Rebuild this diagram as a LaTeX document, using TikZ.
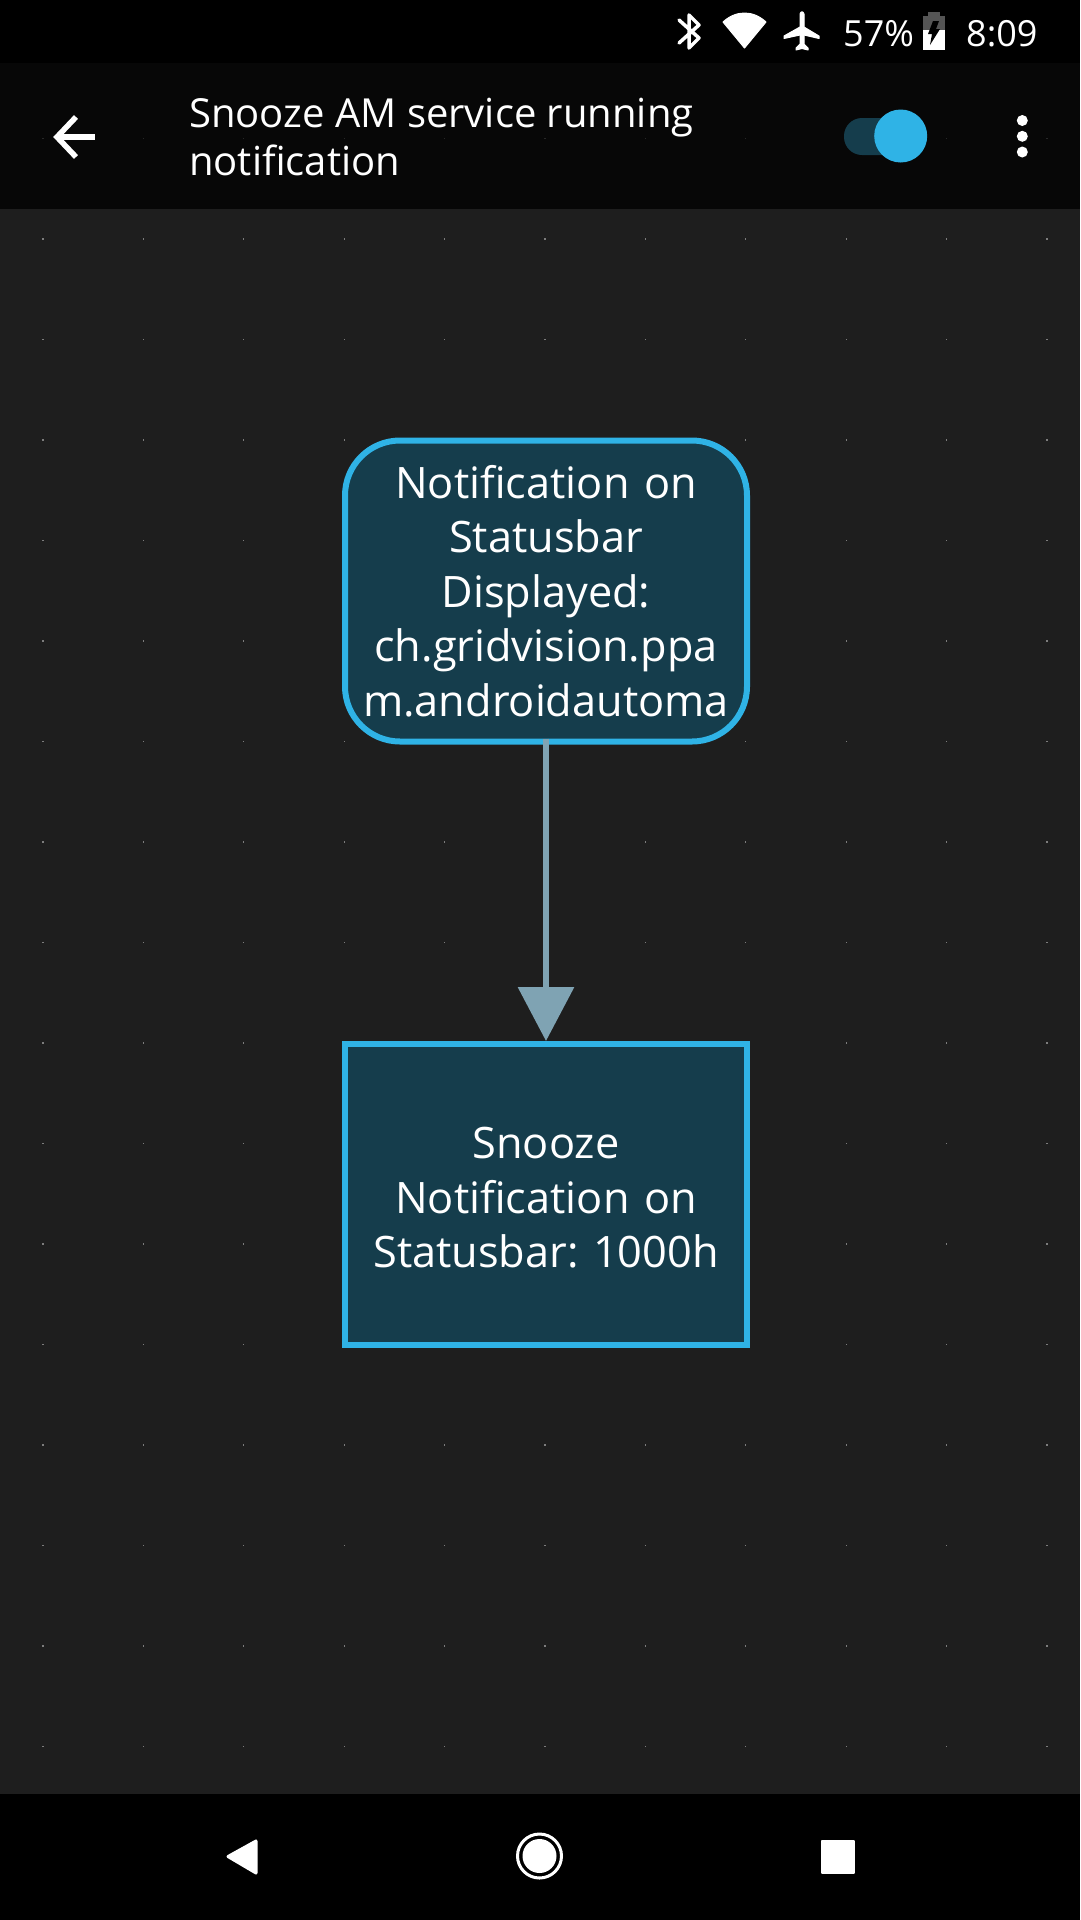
\documentclass[tikz,border=0pt]{standalone}
\usepackage{fontspec}
\setmainfont{Open Sans}
\usetikzlibrary{positioning, arrows.meta}
\definecolor{CanvasGray}{RGB}{30, 30, 30}
\definecolor{HeaderBlack}{RGB}{7, 7, 7}
\definecolor{NodeTeal}{RGB}{21, 61, 76}
\definecolor{EdgeBlue}{RGB}{47, 179, 230}
\definecolor{LinkSlate}{RGB}{127, 163, 179}
\definecolor{BatteryGray}{RGB}{85, 85, 85}
\definecolor{DotGray}{RGB}{125, 125, 125}
\definecolor{DotDim}{RGB}{40, 40, 40}
\tikzset{
  flowbox/.style={draw=EdgeBlue, line width=6pt, fill=NodeTeal, text=white, minimum width=402pt, minimum height=301pt, text width=396pt, inner sep=0pt, align=center, font=\fontsize{43.3}{54.5}\selectfont\frenchspacing},
  barlabel/.style={text=white, inner sep=0pt, font=\fontsize{36}{36}\selectfont},
  icon/.style={fill=white, draw=white, line width=1pt, line join=round}
}
\begin{document}
\begin{tikzpicture}[x=1pt, y=-1pt]
\useasboundingbox (0,0) rectangle (1080,1920);
% bars
\fill[CanvasGray] (0,0) rectangle (1080,1920);
\fill[black] (0,0) rectangle (1080,63);
\fill[HeaderBlack] (0,63) rectangle (1080,209);
\fill[black] (0,1794) rectangle (1080,1920);
% canvas dots
\foreach \i in {0,...,10} {
  \fill[DotDim] (43+100.4*\i-0.6,137.9) rectangle ++(1.2,1.2);
  \foreach \j in {0,...,15} {
    \fill[DotGray] (43+100.4*\i-0.6,238.4+100.5*\j) rectangle ++(1.2,1.2);
  }
}
% flow
\node[flowbox, rounded corners=55pt] (trigger) at (546,591) {Notification on\\Statusbar\\Displayed:\\ch.gridvision.ppa\\m.androidautoma};
\node[flowbox] (snooze) at (546,1194.5) {\rule{0pt}{38pt}Snooze\\Notification on\\Statusbar: 1000h};
\draw[LinkSlate, line width=6.5pt, shorten <=-6pt, -{Triangle[length=54pt, width=55pt]}] (trigger.south) -- (snooze.north);
% header
\node[text=white, inner sep=0pt, anchor=base west, align=left, font=\fontsize{40}{48}\selectfont] (title) at (189,175) {Snooze AM service running\\notification};
\draw[white, line width=5.5pt] (76,117) -- (57,137) -- (76,157);
\draw[white, line width=5.5pt] (59,137) -- (95,137);
\fill[NodeTeal, rounded corners=18pt] (844,118) rectangle (905,155);
\node[circle, fill=EdgeBlue, minimum size=53pt, inner sep=0pt] (knob) at (900.7,136) {};
\foreach \y in {120.5,136.3,152} {
  \fill[white] (1022.3,\y) circle (5.5);
}
% status bar
\draw[white, line width=3.5pt, line join=round, line cap=round] (679,20) -- (699,38) -- (689,48) -- (689,15) -- (699,25) -- (679,43);
\path[icon] (744.5,48) -- (723,22) .. controls (736,10) and (753,10) .. (766,22) -- cycle;
\path[icon] (800,14) .. controls (801,11) and (803,11) .. (804,14) -- (804,27) -- (819,36) -- (819,38.5) -- (804,35) -- (804,44) -- (808,48) -- (808,50) -- (802,48.5) -- (796,50) -- (796,48) -- (800,44) -- (800,35) -- (784,38.5) -- (784,36) -- (800,27) -- cycle;
\node[barlabel, anchor=base west] (battery) at (843,46) {57\%};
\fill[BatteryGray] (928,12) rectangle (940,16);
\fill[BatteryGray] (923,16) rectangle (945,30);
\fill[white] (923,30) rectangle (945,50);
\fill[black] (933,21) -- (939,21) -- (936,29) -- (940,29) -- (930,45) -- (932,34) -- (928,34) -- cycle;
\node[barlabel, anchor=base west] (clock) at (966,46) {8:09};
% nav bar
\path[icon, line width=3pt] (256,1841) -- (256,1873) -- (228,1856.5) -- cycle;
\draw[white, line width=3pt] (539.5,1856) circle (22);
\fill[white] (539.5,1856) circle (17);
\path[icon, line width=2pt] (822,1841) rectangle (853.5,1873);
\end{tikzpicture}
\end{document}
